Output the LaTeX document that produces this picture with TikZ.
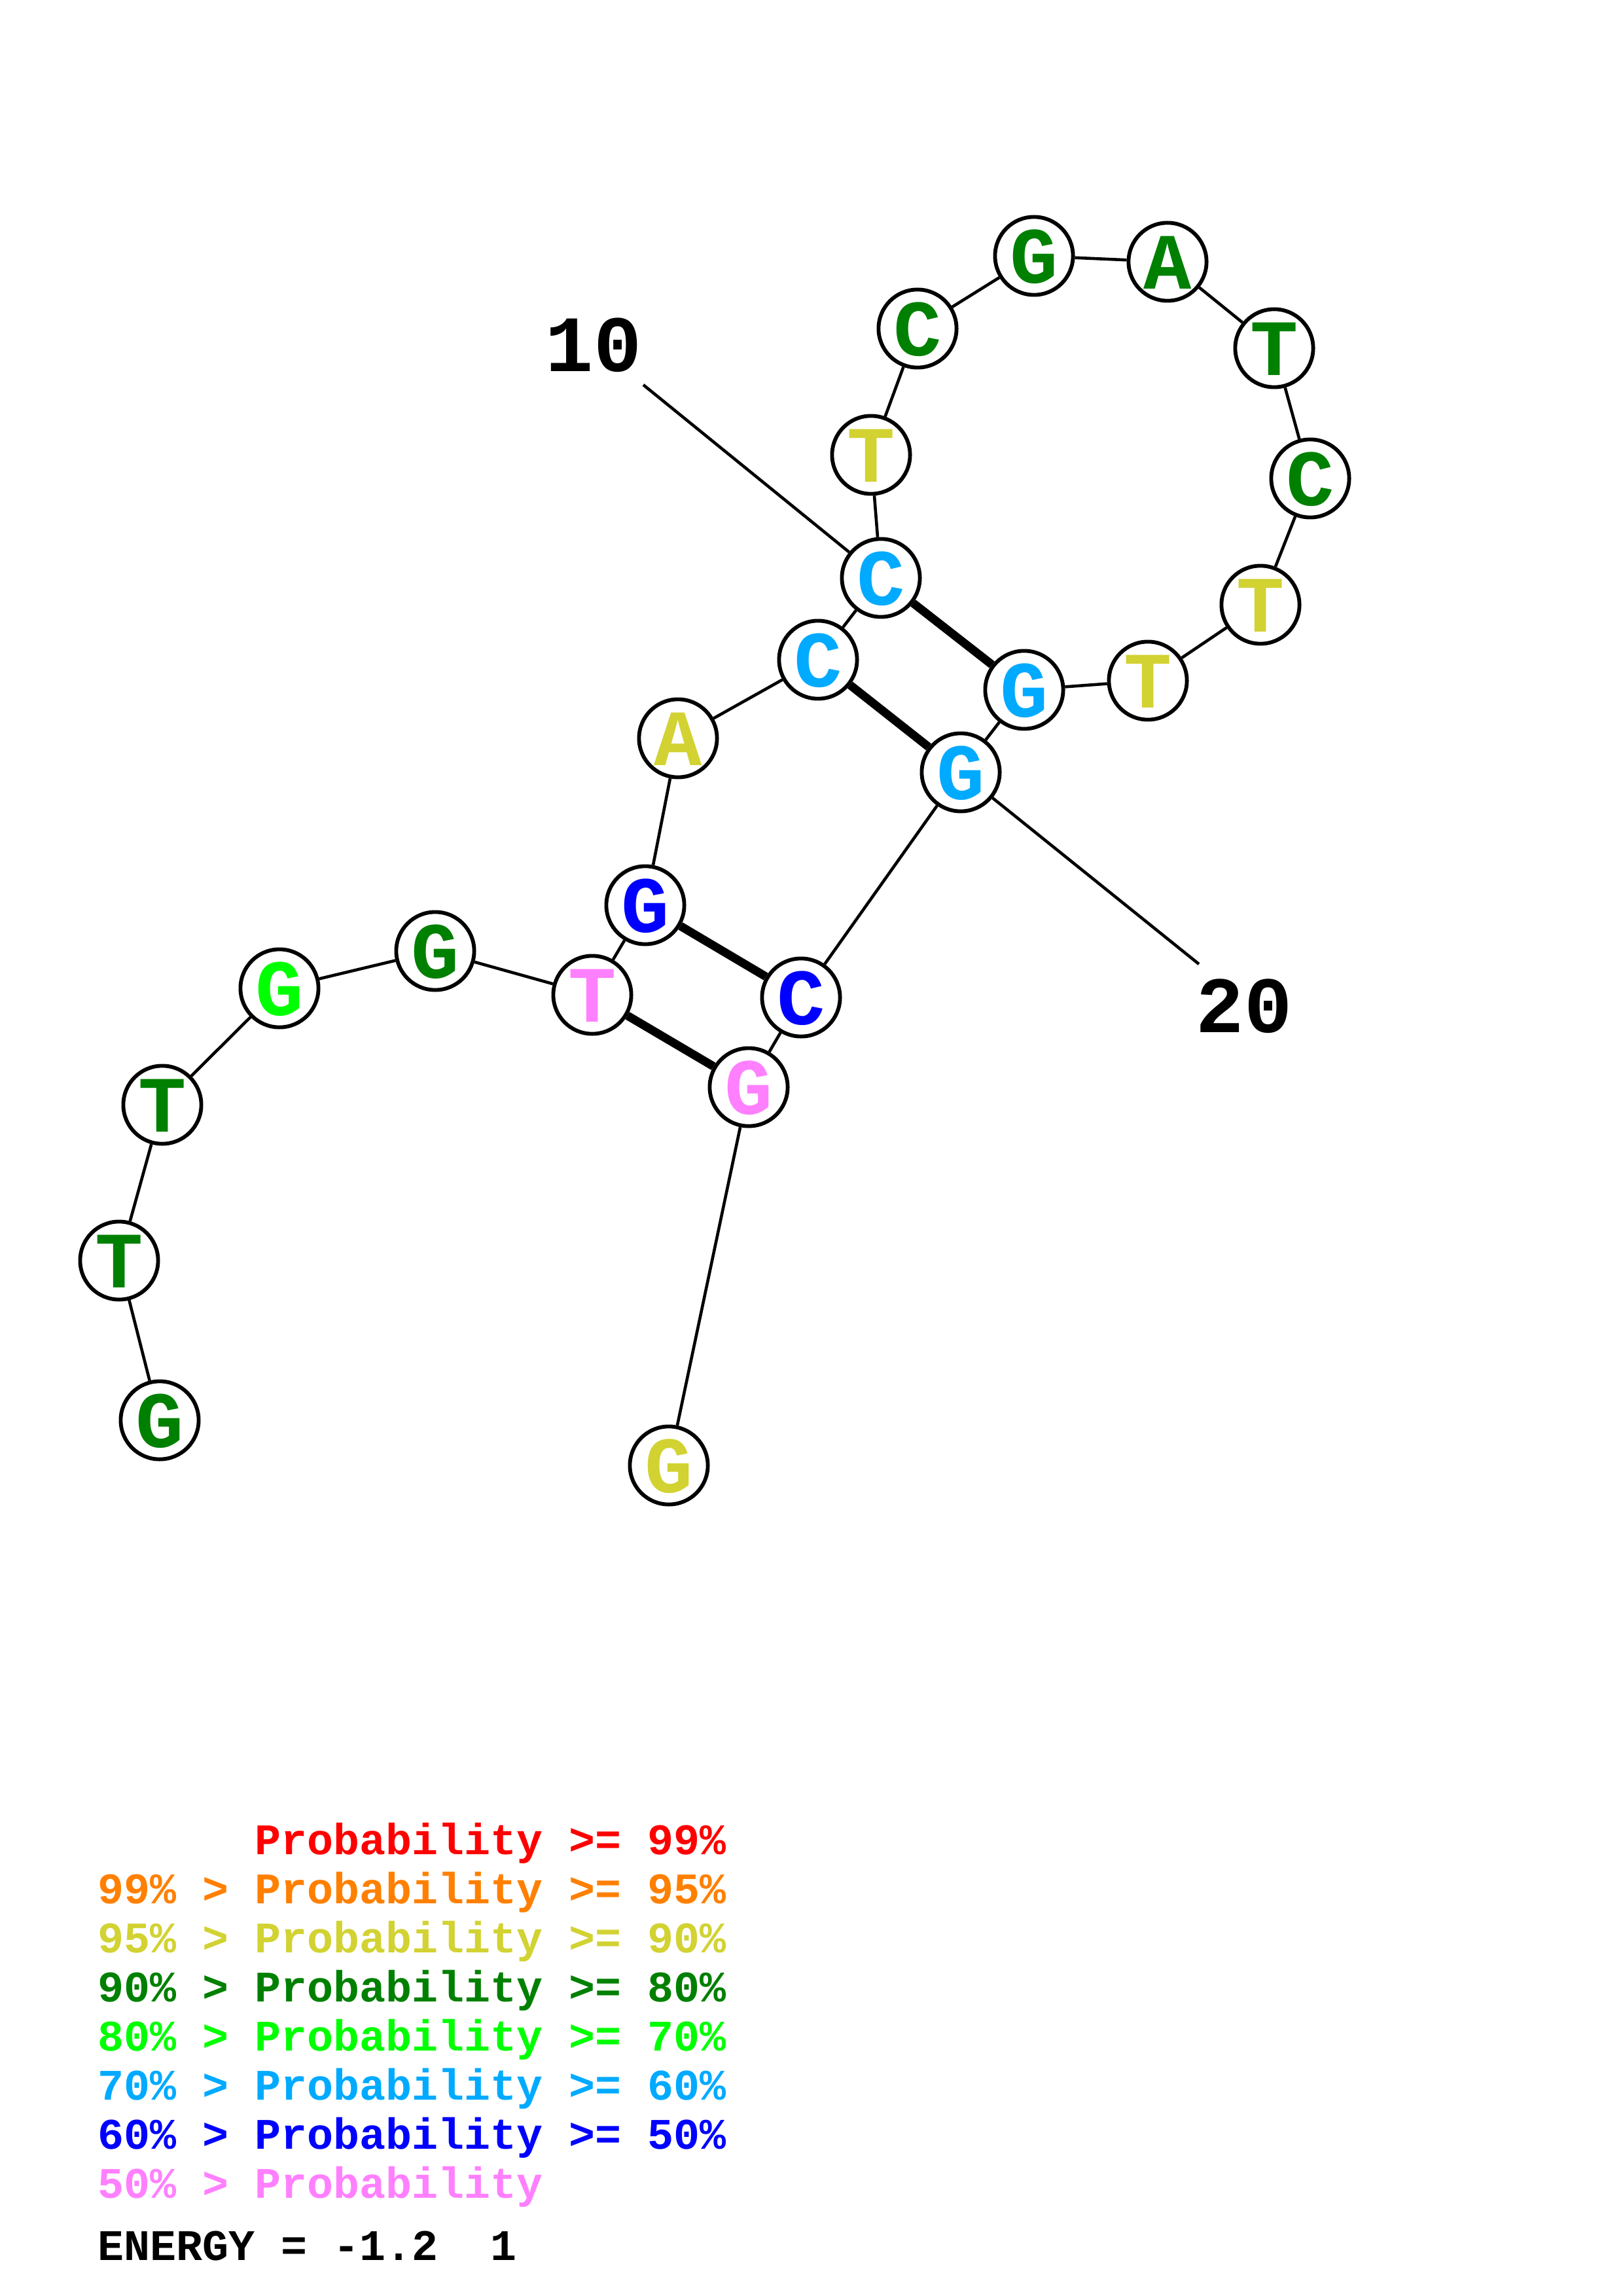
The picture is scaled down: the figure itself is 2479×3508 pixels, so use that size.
\documentclass[tikz,border=0pt]{standalone}
\usepackage{fontspec}
\newfontfamily\cour{Liberation Mono}
\definecolor{cRed}{RGB}{255,0,0}
\definecolor{cOrange}{RGB}{255,128,0}
\definecolor{cYellow}{RGB}{210,210,50}
\definecolor{cDkGreen}{RGB}{0,128,0}
\definecolor{cGreen}{RGB}{0,255,0}
\definecolor{cCyan}{RGB}{0,170,255}
\definecolor{cBlue}{RGB}{0,0,255}
\definecolor{cPink}{RGB}{255,128,255}
\begin{document}
\begin{tikzpicture}[x=0.24pt,y=-0.24pt,
  base/.style={circle,draw=black,line width=1.4pt,fill=white,minimum size=28.6pt,inner sep=0pt,
    font=\cour\bfseries\fontsize{29.3pt}{30pt}\selectfont,text height=19.7pt,text depth=0pt},
  bb/.style={line width=1.1pt},
  pair/.style={line width=3.1pt},
  numlbl/.style={font=\cour\bfseries\fontsize{29.3pt}{30pt}\selectfont,anchor=base,inner sep=0pt},
  leg/.style={font=\cour\bfseries\fontsize{16pt}{18pt}\selectfont,anchor=base west,inner sep=0pt}]
\useasboundingbox (0,0) rectangle (2479,3508);
% nucleotides
\node[base,text=cDkGreen] (n1) at (244,2170) {G};
\node[base,text=cDkGreen] (n2) at (182,1926) {T};
\node[base,text=cDkGreen] (n3) at (248,1688) {T};
\node[base,text=cGreen] (n4) at (427,1510) {G};
\node[base,text=cDkGreen] (n5) at (665,1453) {G};
\node[base,text=cPink] (n6) at (905,1520) {T};
\node[base,text=cBlue] (n7) at (986,1383) {G};
\node[base,text=cYellow] (n8) at (1036,1128) {A};
\node[base,text=cCyan] (n9) at (1250,1008) {C};
\node[base,text=cCyan] (n10) at (1346,883) {C};
\node[base,text=cYellow] (n11) at (1331,695) {T};
\node[base,text=cDkGreen] (n12) at (1402,502) {C};
\node[base,text=cDkGreen] (n13) at (1580,391) {G};
\node[base,text=cDkGreen] (n14) at (1784,400) {A};
\node[base,text=cDkGreen] (n15) at (1947,532) {T};
\node[base,text=cDkGreen] (n16) at (2002,731) {C};
\node[base,text=cYellow] (n17) at (1926,924) {T};
\node[base,text=cYellow] (n18) at (1754,1040) {T};
\node[base,text=cCyan] (n19) at (1565,1054) {G};
\node[base,text=cCyan] (n20) at (1468,1180) {G};
\node[base,text=cBlue] (n21) at (1224,1524) {C};
\node[base,text=cPink] (n22) at (1144,1661) {G};
\node[base,text=cYellow] (n23) at (1022,2239) {G};
% backbone
\foreach \a/\b in {1/2,2/3,3/4,4/5,5/6,6/7,7/8,8/9,9/10,10/11,11/12,12/13,13/14,14/15,15/16,16/17,17/18,18/19,19/20,20/21,21/22,22/23}
  \draw[bb] (n\a) -- (n\b);
% base pairs
\draw[pair] (n7) -- (n21);
\draw[pair] (n6) -- (n22);
\draw[pair] (n9) -- (n20);
\draw[pair] (n10) -- (n19);
% position labels
\node[numlbl] (t10) at (907,568) {10};
\node[numlbl] (t20) at (1901,1577) {20};
\coordinate (l10) at (983,588);
\coordinate (l20) at (1832,1473);
\draw[bb] (l10) -- (n10);
\draw[bb] (l20) -- (n20);
% legend
\node[leg,text=cRed] (g1) at (388.4,2833) {Probability >= 99\%};
\node[leg,text=cOrange] (g2) at (149,2908) {99\% > Probability >= 95\%};
\node[leg,text=cYellow] (g3) at (149,2983) {95\% > Probability >= 90\%};
\node[leg,text=cDkGreen] (g4) at (149,3058) {90\% > Probability >= 80\%};
\node[leg,text=cGreen] (g5) at (149,3133) {80\% > Probability >= 70\%};
\node[leg,text=cCyan] (g6) at (149,3208) {70\% > Probability >= 60\%};
\node[leg,text=cBlue] (g7) at (149,3283) {60\% > Probability >= 50\%};
\node[leg,text=cPink] (g8) at (149,3358) {50\% > Probability};
\node[leg,text=black] (g9) at (149,3453) {ENERGY = -1.2\ \ 1};
\end{tikzpicture}
\end{document}
